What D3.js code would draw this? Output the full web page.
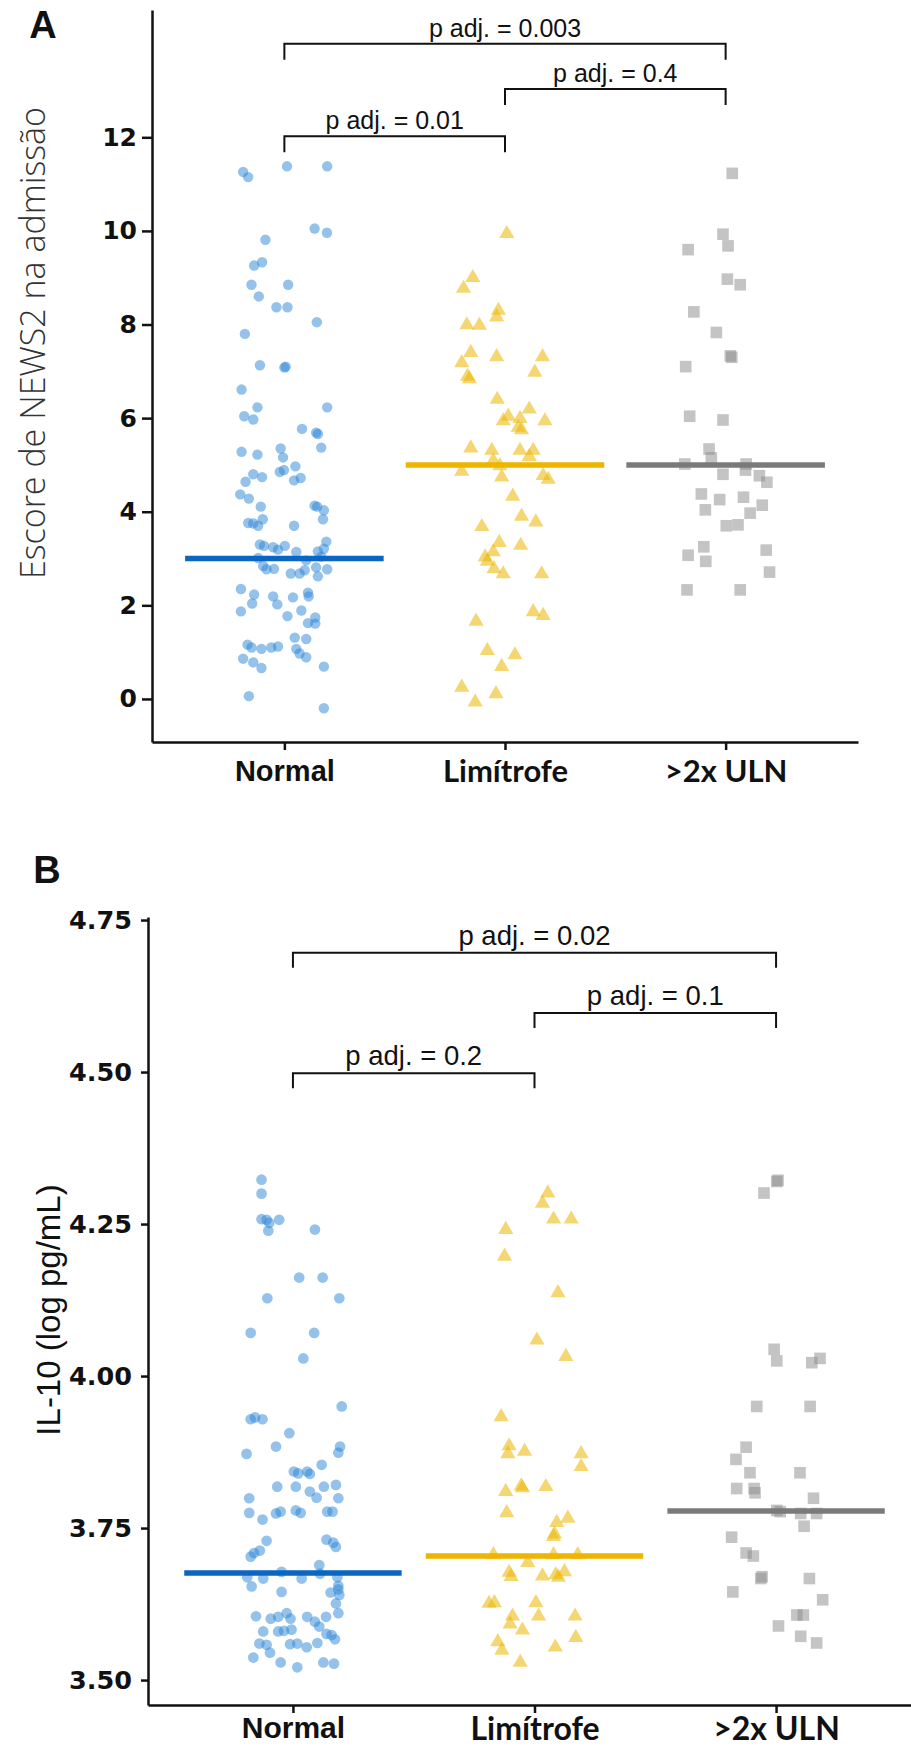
<!DOCTYPE html>
<html>
<head>
<meta charset="utf-8">
<script src="https://cdn.jsdelivr.net/npm/d3@7"></script>
<style>
  body { margin: 0; background: #fff; }
  svg { display: block; }
</style>
</head>
<body>
<div id="chart"></div>
<script>
// groups on the x axis
const categories = ['Normal', 'Limítrofe', '>2x ULN']

// panel A: NEWS2 score, each point is [jitter (in category steps), score]
const newsNormal = [
  [-0.187, 11.26], [-0.164, 11.15], [0.012, 11.38], [0.194, 11.38], [0.137, 10.05], [0.193, 9.96],
  [-0.086, 9.81], [-0.137, 9.26], [-0.101, 9.33], [-0.149, 8.85], [0.017, 8.85], [-0.116, 8.60],
  [-0.036, 8.37], [0.014, 8.37], [0.147, 8.05], [-0.179, 7.80], [-0.111, 7.13], [0.006, 7.10],
  [0.0, 7.08], [-0.194, 6.61], [-0.122, 6.23], [0.194, 6.23], [-0.182, 6.04], [-0.141, 5.97],
  [0.080, 5.77], [0.144, 5.69], [0.152, 5.66], [-0.194, 5.28], [-0.122, 5.22], [-0.017, 5.35],
  [-0.006, 5.16], [0.167, 5.37], [0.050, 4.97], [-0.021, 4.85], [-0.002, 4.89], [0.044, 4.67],
  [0.074, 4.72], [-0.176, 4.64], [-0.141, 4.80], [-0.101, 4.74], [-0.200, 4.37], [-0.161, 4.28],
  [-0.107, 4.11], [0.137, 4.13], [0.149, 4.11], [0.179, 4.03], [0.175, 3.84], [-0.164, 3.76],
  [-0.141, 3.75], [-0.119, 3.70], [-0.098, 3.84], [0.044, 3.70], [-0.111, 3.30], [-0.092, 3.27],
  [-0.051, 3.24], [-0.029, 3.19], [0.002, 3.27], [0.054, 3.14], [0.152, 3.15], [0.179, 3.21],
  [0.190, 3.36], [0.167, 3.04], [-0.119, 3.01], [-0.096, 2.84], [-0.047, 2.78], [-0.081, 2.77],
  [0.029, 2.68], [0.069, 2.68], [0.092, 2.75], [0.099, 2.96], [0.144, 2.81], [0.152, 2.62],
  [0.194, 2.77], [-0.197, 2.35], [-0.137, 2.23], [-0.146, 2.04], [-0.197, 1.87], [-0.051, 2.19],
  [-0.032, 2.02], [0.039, 2.17], [0.107, 2.27], [0.110, 2.19], [0.077, 1.89], [0.014, 1.77],
  [0.107, 1.62], [0.140, 1.74], [0.140, 1.61], [-0.167, 1.16], [-0.149, 1.10], [-0.104, 1.07],
  [-0.059, 1.10], [-0.029, 1.12], [0.047, 1.31], [0.099, 1.28], [0.054, 1.07], [0.069, 0.97],
  [0.099, 0.89], [-0.187, 0.86], [-0.141, 0.78], [-0.104, 0.66], [0.179, 0.69], [-0.161, 0.06],
  [0.179, -0.20]
]
const newsLimitrofe = [
  [0.008, 9.94], [-0.146, 9.00], [-0.188, 8.77], [-0.030, 8.30], [-0.038, 8.16], [-0.173, 7.99],
  [-0.116, 7.98], [-0.155, 7.40], [-0.196, 7.18], [-0.038, 7.31], [0.170, 7.31], [0.135, 6.98],
  [-0.170, 6.89], [-0.161, 6.84], [-0.035, 6.40], [0.015, 6.04], [-0.008, 5.94], [0.068, 5.99],
  [0.110, 6.19], [0.060, 5.80], [0.075, 5.75], [0.181, 5.94], [-0.155, 5.36], [-0.060, 5.31],
  [0.068, 5.31], [0.128, 5.31], [0.110, 5.18], [-0.196, 4.86], [-0.053, 5.09], [-0.023, 4.98],
  [-0.015, 4.74], [0.173, 4.77], [0.196, 4.69], [0.035, 4.33], [0.075, 3.90], [0.140, 3.78],
  [-0.105, 3.68], [-0.026, 3.34], [0.071, 3.28], [-0.053, 3.14], [-0.090, 3.03], [-0.080, 2.94],
  [-0.050, 2.78], [-0.008, 2.67], [0.166, 2.67], [0.128, 1.86], [0.173, 1.78], [-0.131, 1.66],
  [-0.080, 1.03], [0.045, 0.94], [-0.015, 0.69], [-0.196, 0.25], [-0.041, 0.11], [-0.135, -0.07]
]
const newsUln = [
  [0.030, 11.23], [-0.012, 9.93], [0.011, 9.68], [-0.170, 9.60], [0.008, 8.97], [0.066, 8.85],
  [-0.144, 8.27], [-0.042, 7.83], [0.021, 7.33], [0.028, 7.30], [-0.181, 7.10], [-0.163, 6.04],
  [-0.012, 5.96], [-0.075, 5.34], [-0.065, 5.15], [-0.185, 5.02], [0.093, 5.02], [-0.012, 4.80],
  [0.090, 4.89], [0.153, 4.77], [0.187, 4.63], [-0.110, 4.38], [-0.027, 4.26], [0.081, 4.31],
  [0.166, 4.14], [0.111, 3.97], [-0.092, 4.04], [0.003, 3.70], [0.056, 3.72], [-0.099, 3.25],
  [-0.170, 3.07], [-0.090, 2.94], [0.184, 3.18], [0.199, 2.71], [-0.175, 2.33], [0.066, 2.33]
]
const newsMedians = [3, 5, 5]
const newsTicks = [0, 2, 4, 6, 8, 10, 12]
const newsBrackets = [
  { from: 0, to: 1, y: 12.02, label: 'p adj. = 0.01' },
  { from: 1, to: 2, y: 13.03, label: 'p adj. = 0.4' },
  { from: 0, to: 2, y: 14.0, label: 'p adj. = 0.003' }
]

// panel B: IL-10 (log pg/mL)
const il10Normal = [
  [-0.130, 4.323], [-0.130, 4.300], [-0.130, 4.258], [-0.109, 4.257], [-0.098, 4.252], [-0.057, 4.257],
  [-0.102, 4.239], [0.091, 4.241], [0.026, 4.162], [0.123, 4.162], [-0.106, 4.128], [0.192, 4.128],
  [-0.175, 4.071], [0.088, 4.071], [0.043, 4.029], [0.202, 3.950], [-0.175, 3.929], [-0.157, 3.932],
  [-0.126, 3.929], [-0.015, 3.906], [-0.070, 3.884], [-0.192, 3.872], [0.195, 3.884], [0.188, 3.874],
  [0.004, 3.843], [0.022, 3.840], [0.059, 3.843], [0.070, 3.839], [0.119, 3.854], [-0.065, 3.818],
  [0.012, 3.818], [0.070, 3.810], [0.098, 3.800], [0.128, 3.818], [0.178, 3.821], [0.188, 3.799],
  [-0.181, 3.799], [-0.181, 3.775], [-0.126, 3.764], [-0.070, 3.774], [-0.051, 3.777], [0.012, 3.779],
  [0.032, 3.775], [0.142, 3.777], [0.164, 3.777], [-0.109, 3.729], [-0.161, 3.709], [-0.175, 3.703],
  [-0.137, 3.713], [0.139, 3.731], [0.167, 3.726], [0.178, 3.719], [-0.189, 3.669], [-0.171, 3.654],
  [-0.123, 3.667], [-0.047, 3.678], [0.036, 3.667], [0.109, 3.689], [0.112, 3.675], [0.184, 3.669],
  [0.188, 3.655], [-0.047, 3.645], [0.156, 3.644], [0.188, 3.649], [0.192, 3.640], [0.178, 3.626],
  [-0.153, 3.605], [-0.092, 3.601], [-0.061, 3.604], [-0.026, 3.610], [-0.010, 3.601], [0.059, 3.604],
  [0.091, 3.596], [0.137, 3.604], [0.188, 3.610], [-0.123, 3.580], [-0.061, 3.580], [-0.037, 3.581],
  [-0.006, 3.583], [0.109, 3.588], [0.139, 3.576], [0.174, 3.567], [0.160, 3.574], [-0.139, 3.560],
  [-0.109, 3.558], [-0.012, 3.559], [0.018, 3.560], [0.057, 3.554], [0.101, 3.561], [-0.164, 3.537],
  [-0.095, 3.545], [-0.051, 3.529], [0.018, 3.521], [0.126, 3.529], [0.170, 3.527]
]
const il10Limitrofe = [
  [0.055, 4.301], [0.033, 4.284], [0.079, 4.258], [0.152, 4.258], [-0.119, 4.241], [-0.124, 4.197],
  [0.097, 4.137], [0.010, 4.059], [0.130, 4.032], [-0.138, 3.933], [-0.105, 3.885], [-0.110, 3.872],
  [-0.041, 3.876], [0.193, 3.872], [0.193, 3.851], [-0.119, 3.810], [-0.055, 3.819], [-0.050, 3.816],
  [0.047, 3.818], [-0.115, 3.775], [0.092, 3.759], [0.138, 3.766], [0.079, 3.736], [0.083, 3.740],
  [-0.170, 3.706], [0.079, 3.706], [0.179, 3.706], [-0.028, 3.693], [-0.105, 3.677], [-0.097, 3.670],
  [0.033, 3.671], [0.088, 3.673], [0.124, 3.678], [0.099, 3.669], [-0.188, 3.626], [-0.166, 3.627],
  [0.006, 3.627], [-0.091, 3.605], [0.017, 3.605], [0.168, 3.605], [-0.101, 3.592], [-0.050, 3.582],
  [-0.152, 3.563], [-0.135, 3.549], [0.086, 3.554], [0.171, 3.570], [-0.059, 3.529]
]
const il10Uln = [
  [0.003, 4.320], [0.008, 4.322], [-0.050, 4.301], [-0.008, 4.044], [0.003, 4.025], [0.148, 4.022],
  [0.182, 4.029], [-0.080, 3.950], [0.141, 3.950], [-0.124, 3.883], [-0.166, 3.863], [-0.108, 3.841],
  [0.099, 3.841], [-0.163, 3.815], [-0.091, 3.815], [-0.087, 3.808], [0.155, 3.799], [0.003, 3.779],
  [0.017, 3.777], [0.102, 3.774], [0.168, 3.774], [0.116, 3.753], [-0.184, 3.735], [-0.124, 3.709],
  [-0.094, 3.704], [-0.063, 3.667], [-0.058, 3.670], [0.138, 3.667], [-0.179, 3.645], [0.193, 3.632],
  [0.086, 3.607], [0.113, 3.607], [0.010, 3.589], [0.102, 3.572], [0.168, 3.561]
]
const il10Medians = [3.676, 3.704, 3.778]
const il10Ticks = [3.5, 3.75, 4.0, 4.25, 4.5, 4.75]
const il10Brackets = [
  { from: 0, to: 1, y: 4.498, label: 'p adj. = 0.2' },
  { from: 1, to: 2, y: 4.597, label: 'p adj. = 0.1' },
  { from: 0, to: 2, y: 4.696, label: 'p adj. = 0.02' }
]

const ARIAL = '"Liberation Sans", Arial, Helvetica, sans-serif'
const CALIBRI = 'Lato, "Open Sans", sans-serif'
const pointColor = ['#2a86d6', '#ebb700', '#8a8a8a']
const pointAlpha = [0.5, 0.55, 0.5]
const lineColor = ['#0a66c2', '#edb500', '#7a7a7a']
const shapes = [d3.symbolCircle, d3.symbolTriangle, d3.symbolSquare]

let svg = d3.select('#chart').append('svg')
  .attr('width', 911)
  .attr('height', 1750)

function drawPanel(cfg) {
  let g = svg.append('g')
  let x = d3.scalePoint()
    .domain(categories)
    .range([cfg.left, cfg.right])
    .padding(0.6)
  let y = d3.scaleLinear()
    .domain(cfg.yDomain)
    .range([cfg.bottom, cfg.top])

  // jittered points
  cfg.groups.forEach((pts, i) => {
    g.append('g')
      .selectAll('path')
      .data(pts)
      .enter()
      .append('path')
      .attr('transform', d => `translate(${x(categories[i]) + d[0] * x.step()}, ${y(d[1])})`)
      .attr('d', d3.symbol().type(shapes[i]).size(cfg.sizes[i]))
      .attr('fill', pointColor[i])
      .attr('fill-opacity', pointAlpha[i])
  })

  // median lines
  g.append('g')
    .selectAll('line')
    .data(cfg.medians)
    .enter()
    .append('line')
    .attr('x1', (d, i) => x(categories[i]) - 0.45 * x.step())
    .attr('x2', (d, i) => x(categories[i]) + 0.45 * x.step())
    .attr('y1', d => y(d))
    .attr('y2', d => y(d))
    .attr('stroke', (d, i) => lineColor[i])
    .attr('stroke-width', 5.5)

  // axes
  let axis_y = d3.axisLeft(y)
    .tickValues(cfg.ticks)
    .tickSize(cfg.tickLen)
    .tickSizeOuter(0)
    .tickPadding(cfg.tickPad)
    .tickFormat(cfg.fmt)
  let gy = g.append('g')
    .attr('transform', `translate(${cfg.left}, 0)`)
    .call(axis_y)
  gy.selectAll('text')
    .attr('font-family', '"DejaVu Sans", sans-serif')
    .attr('font-weight', 'bold')
    .attr('font-size', cfg.tickFont)
    .attr('fill', '#111')

  let axis_x = d3.axisBottom(x)
    .tickSize(8)
    .tickSizeOuter(0)
    .tickPadding(cfg.catPad)
  let gx = g.append('g')
    .attr('transform', `translate(0, ${cfg.bottom})`)
    .call(axis_x)
  gx.selectAll('text')
    .attr('font-family', (d, i) => i === 0 ? ARIAL : CALIBRI)
    .attr('font-weight', 'bold')
    .attr('font-size', (d, i) => i === 0 ? cfg.catFont : cfg.catFont + 2)
    .attr('fill', '#111')

  g.selectAll('.domain, .tick line')
    .attr('stroke', '#111')
    .attr('stroke-width', 2.5)

  // comparison brackets
  let tip = cfg.tip
  let br = g.append('g')
    .selectAll('g')
    .data(cfg.brackets)
    .enter()
    .append('g')
  br.append('path')
    .attr('d', d => {
      let x1 = x(categories[d.from]), x2 = x(categories[d.to]), yy = y(d.y)
      return `M${x1},${yy + tip}V${yy}H${x2}V${yy + tip}`
    })
    .attr('fill', 'none')
    .attr('stroke', '#111')
    .attr('stroke-width', 2)
  br.append('text')
    .attr('x', d => (x(categories[d.from]) + x(categories[d.to])) / 2)
    .attr('y', d => y(d.y) - cfg.labelGap)
    .attr('text-anchor', 'middle')
    .attr('font-family', ARIAL)
    .attr('font-size', cfg.pFont)
    .attr('fill', '#111')
    .text(d => d.label)

  // axis title
  svg.append('text')
    .attr('transform', `translate(${cfg.titleX}, ${cfg.titleY}) rotate(-90)`)
    .attr('text-anchor', 'middle')
    .attr('font-family', cfg.titleFamily)
    .attr('font-weight', cfg.titleWeight)
    .attr('font-size', cfg.titleFont)
    .attr('fill', cfg.titleColor)
    .text(cfg.title)

  // panel letter
  svg.append('text')
    .attr('x', cfg.letterX)
    .attr('y', cfg.letterY)
    .attr('text-anchor', 'middle')
    .attr('font-family', ARIAL)
    .attr('font-weight', 'bold')
    .attr('font-size', 38)
    .attr('fill', '#111')
    .text(cfg.letter)
}

drawPanel({
  letter: 'A', letterX: 43, letterY: 38,
  left: 152, right: 858, top: 10, bottom: 742,
  yDomain: [-0.92, 14.72],
  groups: [newsNormal, newsLimitrofe, newsUln],
  sizes: [85, 100, 135],
  medians: newsMedians,
  ticks: newsTicks, fmt: d3.format('d'),
  tickLen: 10, tickPad: 5, tickFont: 25,
  catPad: 10, catFont: 29,
  brackets: newsBrackets, tip: 16, labelGap: 7, pFont: 25,
  title: 'Escore de NEWS2 na admissão',
  titleX: 45, titleY: 343, titleFont: 34,
  titleFamily: '"Open Sans", sans-serif', titleWeight: 300, titleColor: '#333'
})

drawPanel({
  letter: 'B', letterX: 47, letterY: 883,
  left: 148, right: 921, top: 917, bottom: 1705,
  yDomain: [3.459, 4.755],
  groups: [il10Normal, il10Limitrofe, il10Uln],
  sizes: [90, 100, 135],
  medians: il10Medians,
  ticks: il10Ticks, fmt: d3.format('.2f'),
  tickLen: 7, tickPad: 9, tickFont: 25.5,
  catPad: 4, catFont: 30,
  brackets: il10Brackets, tip: 15, labelGap: 8, pFont: 27.5,
  title: 'IL-10 (log pg/mL)',
  titleX: 60, titleY: 1310, titleFont: 33,
  titleFamily: ARIAL, titleWeight: 'normal', titleColor: '#111'
})
</script>
</body>
</html>
